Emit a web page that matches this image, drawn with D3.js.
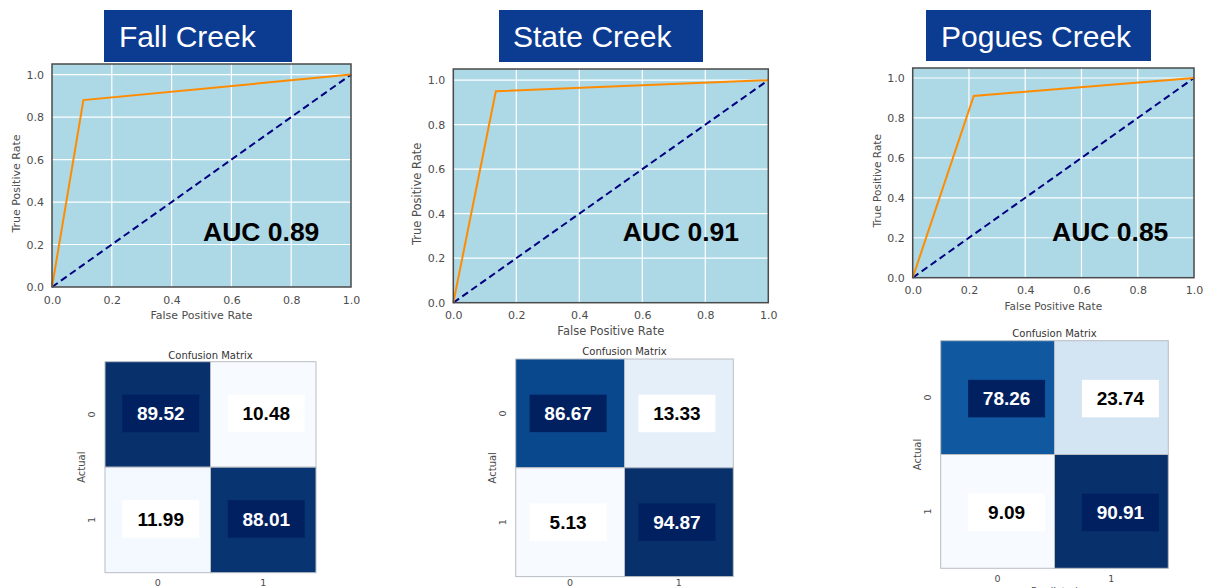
<!DOCTYPE html>
<html>
<head>
<meta charset="utf-8">
<script src="https://cdn.jsdelivr.net/npm/d3@7"></script>
<style>
  html, body { margin: 0; padding: 0; background: #ffffff; }
  svg { display: block; }
</style>
</head>
<body>
<svg id="chart" width="1206" height="588"></svg>
<script>
// ---- data ----
const sites = ["Fall Creek", "State Creek", "Pogues Creek"];
const aucValues = [0.89, 0.91, 0.85];
// ROC curve points per site (false positive rate, true positive rate)
const rocFpr = [[0, 0.105, 1], [0, 0.135, 1], [0, 0.217, 1]];
const rocTpr = [[0, 0.88, 1], [0, 0.95, 1], [0, 0.91, 1]];
const rocTicks = [0, 0.2, 0.4, 0.6, 0.8, 1.0];
// Confusion matrices (row = actual, column = predicted), in percent
const fallMatrix = [[89.52, 10.48], [11.99, 88.01]];
const stateMatrix = [[86.67, 13.33], [5.13, 94.87]];
const poguesMatrix = [[78.26, 23.74], [9.09, 90.91]];
const matrices = [fallMatrix, stateMatrix, poguesMatrix];
const classLabels = ["0", "1"];

// ---- layout of each panel ----
const panels = [
  { title: { x0: 104, x1: 292, y0: 10, y1: 62, tx: 119 },
    roc: { x0: 52, x1: 351, y0: 64, y1: 287, labelFont: 11 },
    auc: { x: 203, y: 241 },
    cm: { x: 105, y: 361.7, size: 211, titleY: 358.5, boxDx: 3, boxDy: -1, xTitle: false } },
  { title: { x0: 499, x1: 703, y0: 10, y1: 62, tx: 513 },
    roc: { x0: 453.3, x1: 768.3, y0: 69, y1: 302.7, labelFont: 11.5 },
    auc: { x: 622.7, y: 240.7 },
    cm: { x: 515.7, y: 359, size: 217.6, titleY: 355, boxDx: -2, boxDy: 0, xTitle: false } },
  { title: { x0: 926, x1: 1151, y0: 10, y1: 61, tx: 941 },
    roc: { x0: 912.7, x1: 1194, y0: 68, y1: 277.7, labelFont: 10.5 },
    auc: { x: 1052, y: 240.7 },
    cm: { x: 940.7, y: 340.7, size: 227.6, titleY: 336.5, boxDx: 9, boxDy: 1, xTitle: true } }
];

const svg = d3.select("#chart");
const tickColor = "#4d4d4d";
const tickFont = "DejaVu Sans, sans-serif";

panels.forEach((p, i) => {
  const g = svg.append("g");

  // ---------- ROC chart ----------
  const r = p.roc;
  const x = d3.scaleLinear().domain([0, 1]).range([r.x0, r.x1]);
  const y = d3.scaleLinear().domain([0, 1.05]).range([r.y1, r.y0]);

  g.append("rect")
    .attr("x", r.x0).attr("y", r.y0)
    .attr("width", r.x1 - r.x0).attr("height", r.y1 - r.y0)
    .attr("fill", "#add8e6");

  // grid
  g.append("g").selectAll("line.gx")
    .data(rocTicks.filter(t => t > 0 && t < 1))
    .join("line")
    .attr("x1", d => x(d)).attr("x2", d => x(d))
    .attr("y1", r.y0).attr("y2", r.y1)
    .attr("stroke", "#ffffff").attr("stroke-width", 1.2);
  g.append("g").selectAll("line.gy")
    .data(rocTicks.filter(t => t > 0))
    .join("line")
    .attr("x1", r.x0).attr("x2", r.x1)
    .attr("y1", d => y(d)).attr("y2", d => y(d))
    .attr("stroke", "#ffffff").attr("stroke-width", 1.2);

  // chance diagonal
  g.append("line")
    .attr("x1", x(0)).attr("y1", y(0)).attr("x2", x(1)).attr("y2", y(1))
    .attr("stroke", "#000080").attr("stroke-width", 2)
    .attr("stroke-dasharray", "7,4");

  // ROC curve
  const pts = rocFpr[i].map((f, k) => [f, rocTpr[i][k]]);
  g.append("path")
    .datum(pts)
    .attr("d", d3.line().x(d => x(d[0])).y(d => y(d[1])))
    .attr("fill", "none")
    .attr("stroke", "#ff8c00").attr("stroke-width", 2);

  // frame
  g.append("rect")
    .attr("x", r.x0).attr("y", r.y0)
    .attr("width", r.x1 - r.x0).attr("height", r.y1 - r.y0)
    .attr("fill", "none").attr("stroke", "#4a4a4a").attr("stroke-width", 1.5);

  // axes
  const xAxis = d3.axisBottom(x).tickValues(rocTicks).tickFormat(d3.format(".1f")).tickSize(0).tickPadding(9);
  const yAxis = d3.axisLeft(y).tickValues(rocTicks).tickFormat(d3.format(".1f")).tickSize(0).tickPadding(8);
  const gx = g.append("g").attr("transform", `translate(0,${r.y1})`).call(xAxis);
  const gy = g.append("g").attr("transform", `translate(${r.x0},0)`).call(yAxis);
  [gx, gy].forEach(a => {
    a.select(".domain").remove();
    a.selectAll("text")
      .attr("fill", tickColor)
      .style("font-family", tickFont)
      .style("font-size", "11px");
  });

  g.append("text")
    .attr("x", (r.x0 + r.x1) / 2).attr("y", r.y1 + 32)
    .attr("text-anchor", "middle")
    .attr("fill", tickColor)
    .style("font-family", tickFont)
    .style("font-size", r.labelFont + "px")
    .text("False Positive Rate");
  g.append("text")
    .attr("transform", `translate(${r.x0 - 32},${(r.y0 + r.y1) / 2 + 8}) rotate(-90)`)
    .attr("text-anchor", "middle")
    .attr("fill", tickColor)
    .style("font-family", tickFont)
    .style("font-size", r.labelFont + "px")
    .text("True Positive Rate");

  // AUC annotation
  g.append("text")
    .attr("x", p.auc.x).attr("y", p.auc.y)
    .attr("fill", "#000000")
    .style("font-family", "Liberation Sans, Arial, sans-serif")
    .style("font-weight", "bold")
    .style("font-size", "26.5px")
    .text("AUC " + aucValues[i].toFixed(2));

  // ---------- site title ----------
  const t = p.title;
  g.append("rect")
    .attr("x", t.x0).attr("y", t.y0)
    .attr("width", t.x1 - t.x0).attr("height", t.y1 - t.y0)
    .attr("fill", "#0c3b92");
  g.append("text")
    .attr("x", t.tx).attr("y", t.y0 + 37)
    .attr("fill", "#ffffff")
    .style("font-family", "Liberation Sans, Arial, sans-serif")
    .style("font-size", "30px")
    .text(sites[i]);

  // ---------- confusion matrix ----------
  const c = p.cm;
  const m = matrices[i];
  const flat = m.flat();
  const lo = d3.min(flat), hi = d3.max(flat);
  const color = d3.scaleSequential(d3.interpolateBlues).domain([lo, hi]);
  const band = d3.scaleBand().domain(classLabels).range([0, c.size]);

  const cells = [];
  m.forEach((row, ri) => row.forEach((v, ci) => cells.push({ ri, ci, v })));

  const cg = g.append("g").attr("transform", `translate(${c.x},${c.y})`);
  cg.selectAll("rect.cell")
    .data(cells)
    .join("rect")
    .attr("x", d => band(classLabels[d.ci]))
    .attr("y", d => band(classLabels[d.ri]))
    .attr("width", band.bandwidth())
    .attr("height", band.bandwidth())
    .attr("fill", d => color(d.v))
    .attr("stroke", "#b9bdc4").attr("stroke-width", 1);

  const boxW = 77, boxH = 37.5;
  const dark = d => (d.v - lo) / (hi - lo) > 0.5;
  const lbl = cg.selectAll("g.lbl")
    .data(cells)
    .join("g")
    .attr("transform", d => `translate(${band(classLabels[d.ci]) + band.bandwidth() / 2 + c.boxDx},${band(classLabels[d.ri]) + band.bandwidth() / 2 + c.boxDy})`);
  lbl.append("rect")
    .attr("x", -boxW / 2).attr("y", -boxH / 2)
    .attr("width", boxW).attr("height", boxH)
    .attr("fill", d => dark(d) ? "#002060" : "#ffffff");
  lbl.append("text")
    .attr("text-anchor", "middle")
    .attr("dy", "0.35em")
    .attr("fill", d => dark(d) ? "#ffffff" : "#000000")
    .style("font-family", "Liberation Sans, Arial, sans-serif")
    .style("font-weight", "bold")
    .style("font-size", "19px")
    .text(d => d.v.toFixed(2));

  // matrix title and axis labels
  cg.append("text")
    .attr("x", c.size / 2).attr("y", c.titleY - c.y)
    .attr("text-anchor", "middle")
    .attr("fill", "#333333")
    .style("font-family", tickFont)
    .style("font-size", "10px")
    .text("Confusion Matrix");

  cg.selectAll("text.rowtick")
    .data(classLabels)
    .join("text")
    .attr("transform", d => `translate(-10,${band(d) + band.bandwidth() / 2}) rotate(-90)`)
    .attr("text-anchor", "middle")
    .attr("fill", tickColor)
    .style("font-family", tickFont)
    .style("font-size", "9.5px")
    .text(d => d);
  cg.selectAll("text.coltick")
    .data(classLabels)
    .join("text")
    .attr("x", d => band(d) + band.bandwidth() / 2)
    .attr("y", Math.min(c.size + 14, 586 - c.y))
    .attr("text-anchor", "middle")
    .attr("fill", tickColor)
    .style("font-family", tickFont)
    .style("font-size", "9.5px")
    .text(d => d);
  cg.append("text")
    .attr("transform", `translate(-20,${c.size / 2}) rotate(-90)`)
    .attr("text-anchor", "middle")
    .attr("fill", tickColor)
    .style("font-family", tickFont)
    .style("font-size", "10px")
    .text("Actual");
  if (c.xTitle) {
    cg.append("text")
      .attr("x", c.size / 2).attr("y", c.size + 27)
      .attr("text-anchor", "middle")
      .attr("fill", tickColor)
      .style("font-family", tickFont)
      .style("font-size", "10px")
      .text("Predicted");
  }
});
</script>
</body>
</html>
